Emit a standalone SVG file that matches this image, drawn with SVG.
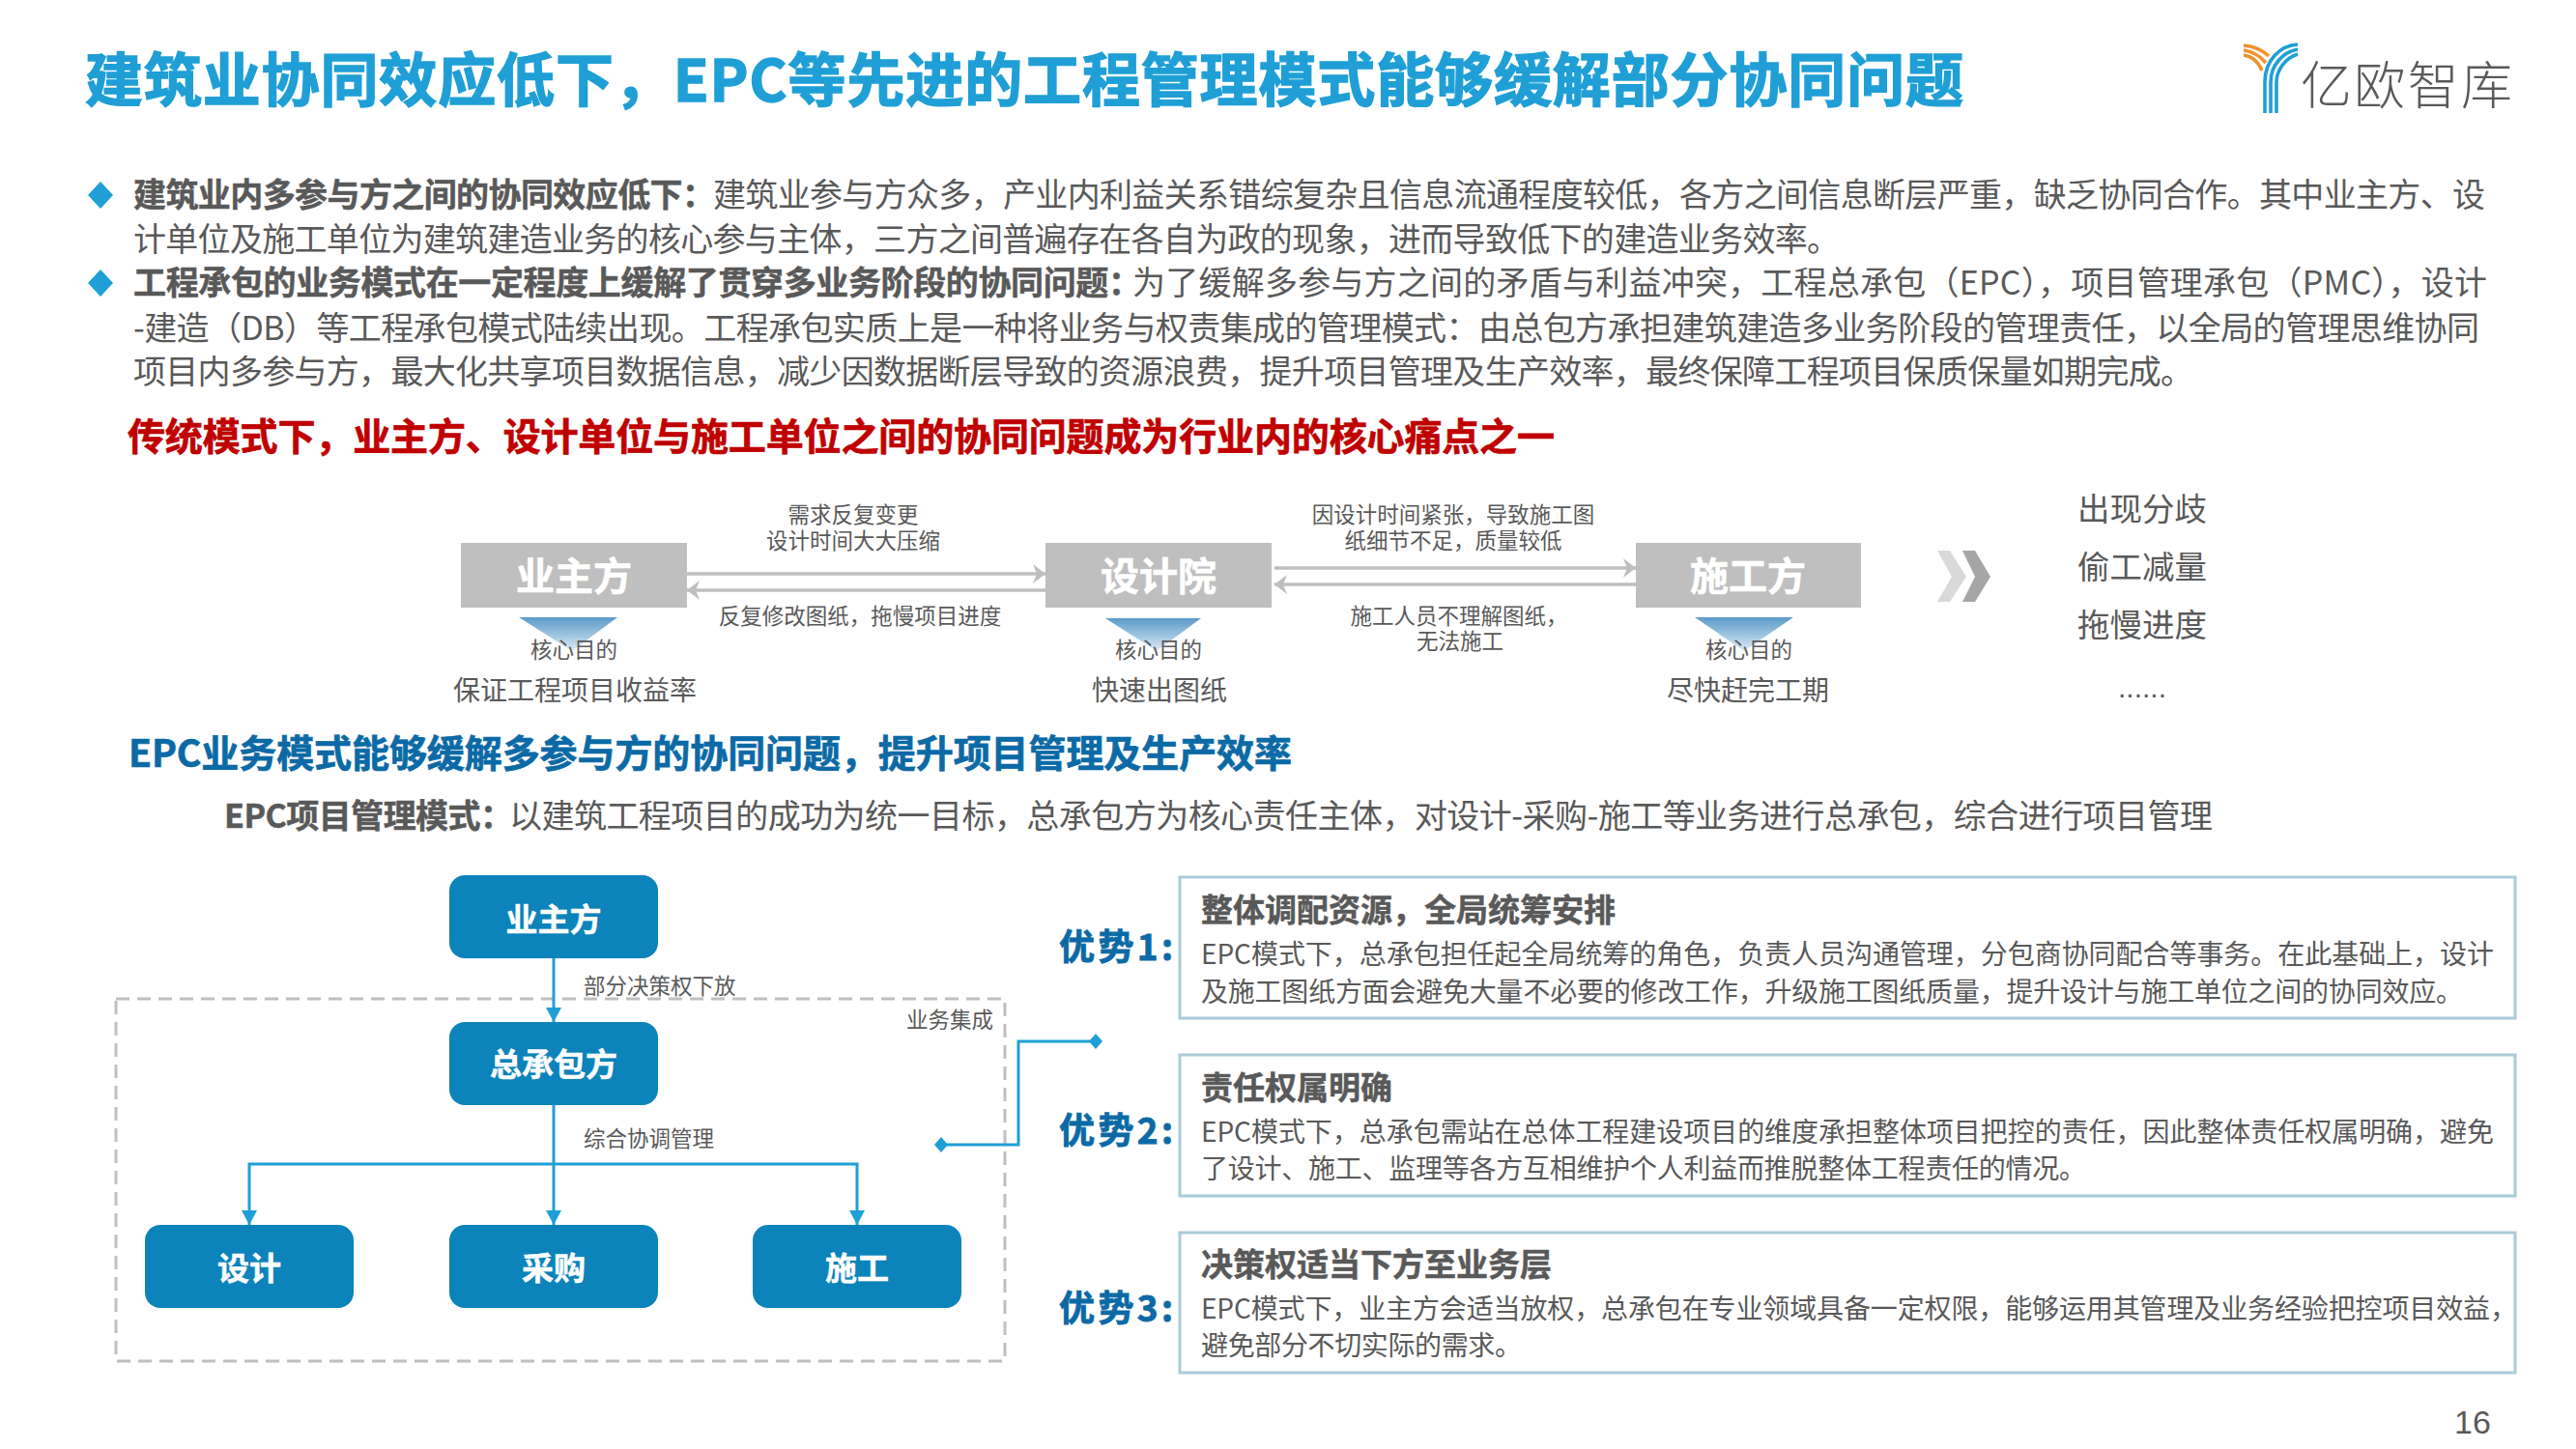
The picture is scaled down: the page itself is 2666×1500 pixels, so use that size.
<svg xmlns="http://www.w3.org/2000/svg" width="2666" height="1500" viewBox="0 0 2666 1500">
<style>
text{font-family:"Noto Sans CJK SC","Liberation Sans",sans-serif;fill:#595959}
.b{font-weight:700;stroke:#595959;stroke-width:.5}
.t{font-size:34px}
.e{font-size:22.5px;text-anchor:middle}
.g{font-size:28px;text-anchor:middle}
.gb{fill:#bfbfbf}
.gt{fill:#fff;font-size:40px;font-weight:700;text-anchor:middle;stroke:#fff;stroke-width:.6}
.bn{fill:#0c83ba}
.bt{fill:#fff;font-size:33px;font-weight:700;text-anchor:middle;stroke:#fff;stroke-width:.5}
.h{font-size:33px;font-weight:700;stroke:#595959;stroke-width:.5}
.p{font-size:28px}
.ad{font-size:37px;font-weight:700;fill:#0b6aa6;stroke:#0b6aa6;stroke-width:.8}
.card{fill:#fff;stroke:#a9cbd9;stroke-width:3}
.gl{fill:none;stroke:#bfbfbf;stroke-width:3.5}
.cl{fill:none;stroke:#1f9fd6;stroke-width:3}
.lb{fill:none;stroke-width:3.6}
</style>
<defs>
<linearGradient id="tg" x1="0" y1="0" x2="0" y2="1"><stop offset="0" stop-color="#5a9ac8"/><stop offset="1" stop-color="#dcebf5"/></linearGradient>
<marker id="ga" markerUnits="userSpaceOnUse" markerWidth="16" markerHeight="24" refX="14" refY="12" orient="auto"><path d="M1,2 L14,12 L1,22 L5,12 Z" fill="#bfbfbf"/></marker>
<marker id="ca" markerUnits="userSpaceOnUse" markerWidth="16" markerHeight="20" refX="15" refY="8" orient="auto"><path d="M0,0 L15,8 L0,16 Z" fill="#1f9fd6"/></marker>
</defs>
<g id="title"><text x="88" y="105" font-weight="700" font-size="60" textLength="1944" style="fill:#1f9fd6;stroke:#1f9fd6;stroke-width:1.4">建筑业协同效应低下，EPC等先进的工程管理模式能够缓解部分协同问题</text></g>
<g id="logo">
<g class="lb" stroke="#f0932b"><path d="M2322,47 C2332,48 2342,52 2348,58"/><path d="M2322,52 C2331,53 2339,58 2345,65"/><path d="M2322,57 C2330,58 2337,64 2341,73"/></g>
<g class="lb" stroke="#1f9fd6"><path d="M2344,117 V85 C2344,62 2360,47 2378,46"/><path d="M2350,117 V85 C2350,68 2362,54 2378,51"/><path d="M2356,117 V85 C2356,73 2365,60 2378,56"/></g>
<text x="2381" y="108" font-size="53" font-weight="300" textLength="219">亿欧智库</text>
</g>
<g id="intro">
<path d="M104,188 L117,202 L104,216 L91,202 Z" fill="#1f9fd6"/>
<path d="M104,279 L117,293 L104,307 L91,293 Z" fill="#1f9fd6"/>
<text x="138" y="214" class="t b" textLength="602">建筑业内多参与方之间的协同效应低下：</text>
<text x="738" y="214" class="t" textLength="1834">建筑业参与方众多，产业内利益关系错综复杂且信息流通程度较低，各方之间信息断层严重，缺乏协同合作。其中业主方、设</text>
<text x="138" y="260" class="t" textLength="1766">计单位及施工单位为建筑建造业务的核心参与主体，三方之间普遍存在各自为政的现象，进而导致低下的建造业务效率。</text>
<text x="138" y="305" class="t b" textLength="1043">工程承包的业务模式在一定程度上缓解了贯穿多业务阶段的协同问题：</text>
<text x="1172" y="305" class="t" textLength="1402">为了缓解多参与方之间的矛盾与利益冲突，工程总承包（EPC），项目管理承包（PMC），设计</text>
<text x="138" y="352" class="t" textLength="2428">-建造（DB）等工程承包模式陆续出现。工程承包实质上是一种将业务与权责集成的管理模式：由总包方承担建筑建造多业务阶段的管理责任，以全局的管理思维协同</text>
<text x="138" y="397" class="t" textLength="2132">项目内多参与方，最大化共享项目数据信息，减少因数据断层导致的资源浪费，提升项目管理及生产效率，最终保障工程项目保质保量如期完成。</text>
<text x="132" y="466" font-weight="700" font-size="39" textLength="1477" style="fill:#c00000;stroke:#c00000;stroke-width:.7">传统模式下，业主方、设计单位与施工单位之间的协同问题成为行业内的核心痛点之一</text>
</g>
<g id="connectors-top">
<path class="gl" d="M711,594 H1082" marker-end="url(#ga)"/>
<path class="gl" d="M1082,611 H711" marker-end="url(#ga)"/>
<path class="gl" d="M1319,588 H1693" marker-end="url(#ga)"/>
<path class="gl" d="M1693,605 H1319" marker-end="url(#ga)"/>
</g>
<g id="node-owner">
<rect class="gb" x="477" y="562" width="234" height="67"/><text class="gt" x="594" y="611">业主方</text>
<path d="M537,639 H639 L592,674 Z" fill="url(#tg)"/>
<text class="e" x="594" y="681">核心目的</text><text class="g" x="595" y="725">保证工程项目收益率</text>
</g>
<g id="node-design">
<rect class="gb" x="1082" y="562" width="234" height="67"/><text class="gt" x="1199" y="611">设计院</text>
<path d="M1144,640 H1243 L1197,674 Z" fill="url(#tg)"/>
<text class="e" x="1199" y="681">核心目的</text><text class="g" x="1200" y="725">快速出图纸</text>
</g>
<g id="node-build">
<rect class="gb" x="1693" y="562" width="233" height="67"/><text class="gt" x="1809" y="611">施工方</text>
<path d="M1754,639 H1856 L1805,674 Z" fill="url(#tg)"/>
<text class="e" x="1810" y="681">核心目的</text><text class="g" x="1809" y="725">尽快赶完工期</text>
</g>
<g id="labels-top">
<text class="e" x="883" y="541">需求反复变更</text><text class="e" x="883" y="568">设计时间大大压缩</text>
<text class="e" x="890" y="646">反复修改图纸，拖慢项目进度</text>
<text class="e" x="1504" y="541">因设计时间紧张，导致施工图</text><text class="e" x="1504" y="568">纸细节不足，质量较低</text>
<text class="e" x="1510" y="646">施工人员不理解图纸，</text><text class="e" x="1511" y="672">无法施工</text>
</g>
<g id="chevrons">
<path d="M2005,570 H2018 L2035,597 L2018,623 H2005 L2020,597 Z" fill="#d9d9d9"/>
<path d="M2031,570 H2044 L2060,597 L2044,623 H2031 L2044,597 Z" fill="#a6a6a6"/>
</g>
<g id="outcomes">
<text x="2217" y="539" font-size="33.5" text-anchor="middle">出现分歧</text>
<text x="2217" y="599" font-size="33.5" text-anchor="middle">偷工减量</text>
<text x="2217" y="659" font-size="33.5" text-anchor="middle">拖慢进度</text>
<text x="2217" y="722" font-size="30" text-anchor="middle" style="font-family:'Liberation Sans',sans-serif">......</text>
</g>
<g id="epc-head">
<text x="133" y="794" font-weight="700" font-size="39" textLength="1204" style="fill:#0b6aa6;stroke:#0b6aa6;stroke-width:.7">EPC业务模式能够缓解多参与方的协同问题，提升项目管理及生产效率</text>
<text x="232" y="857" class="b" font-size="34" textLength="299">EPC项目管理模式：</text>
<text x="527" y="857" font-size="34" textLength="1763">以建筑工程项目的成功为统一目标，总承包方为核心责任主体，对设计-采购-施工等业务进行总承包，综合进行项目管理</text>
</g>
<rect id="integration" x="120" y="1034" width="920" height="375" fill="none" stroke="#bfbfbf" stroke-width="3" stroke-dasharray="14 8"/>
<g id="connectors">
<path class="cl" d="M573,992 V1058" marker-end="url(#ca)"/>
<path class="cl" d="M573,1144 V1268" marker-end="url(#ca)"/>
<path class="cl" d="M573,1205 H258 V1268" marker-end="url(#ca)"/>
<path class="cl" d="M573,1205 H887 V1268" marker-end="url(#ca)"/>
<path class="cl" d="M974,1185 H1054 V1078 H1134"/>
<path d="M974,1177 L981,1185 L974,1193 L967,1185 Z M1134,1070 L1141,1078 L1134,1086 L1127,1078 Z" fill="#1f9fd6"/>
</g>
<g id="n-owner"><rect class="bn" x="465" y="906" width="216" height="86" rx="16"/><text class="bt" x="573" y="964">业主方</text></g>
<g id="n-epc"><rect class="bn" x="465" y="1058" width="216" height="86" rx="16"/><text class="bt" x="573" y="1114">总承包方</text></g>
<g id="n-design"><rect class="bn" x="150" y="1268" width="216" height="86" rx="16"/><text class="bt" x="258" y="1325">设计</text></g>
<g id="n-buy"><rect class="bn" x="465" y="1268" width="216" height="86" rx="16"/><text class="bt" x="573" y="1325">采购</text></g>
<g id="n-build"><rect class="bn" x="779" y="1268" width="216" height="86" rx="16"/><text class="bt" x="887" y="1325">施工</text></g>
<g id="labels-bottom" font-size="22.5">
<text x="604" y="1029">部分决策权下放</text>
<text x="604" y="1187">综合协调管理</text>
<text x="938" y="1064">业务集成</text>
</g>
<g id="adv1">
<text x="1096" y="994" class="ad" textLength="118">优势1:</text>
<rect class="card" x="1221" y="908" width="1382" height="146"/>
<text x="1243" y="954" class="h">整体调配资源，全局统筹安排</text>
<text x="1243" y="998" class="p" textLength="1338">EPC模式下，总承包担任起全局统筹的角色，负责人员沟通管理，分包商协同配合等事务。在此基础上，设计</text>
<text x="1243" y="1037" class="p" textLength="1306">及施工图纸方面会避免大量不必要的修改工作，升级施工图纸质量，提升设计与施工单位之间的协同效应。</text>
</g>
<g id="adv2">
<text x="1096" y="1184" class="ad" textLength="118">优势2:</text>
<rect class="card" x="1221" y="1092" width="1382" height="146"/>
<text x="1243" y="1138" class="h">责任权属明确</text>
<text x="1243" y="1182" class="p" textLength="1338">EPC模式下，总承包需站在总体工程建设项目的维度承担整体项目把控的责任，因此整体责任权属明确，避免</text>
<text x="1243" y="1220" class="p" textLength="916">了设计、施工、监理等各方互相维护个人利益而推脱整体工程责任的情况。</text>
</g>
<g id="adv3">
<text x="1096" y="1368" class="ad" textLength="118">优势3:</text>
<rect class="card" x="1221" y="1276" width="1382" height="145"/>
<text x="1243" y="1321" class="h">决策权适当下方至业务层</text>
<text x="1243" y="1365" class="p" textLength="1362">EPC模式下，业主方会适当放权，总承包在专业领域具备一定权限，能够运用其管理及业务经验把控项目效益，</text>
<text x="1243" y="1403" class="p" textLength="332">避免部分不切实际的需求。</text>
</g>
<text id="page" x="2559" y="1484" font-size="34" text-anchor="middle" style="font-family:'Liberation Sans',sans-serif">16</text>
</svg>
